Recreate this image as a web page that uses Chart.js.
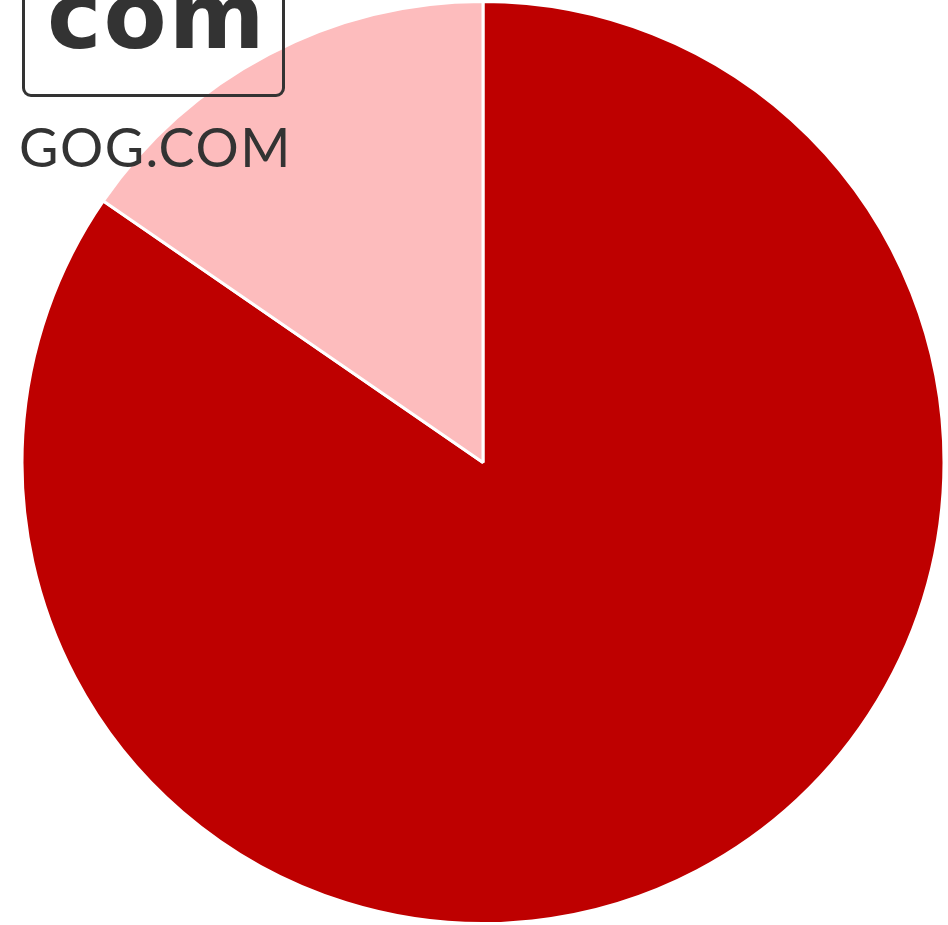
<!DOCTYPE html>
<html>
<head>
<meta charset="utf-8">
<script src="https://cdn.jsdelivr.net/npm/chart.js@4"></script>
<style>
  html, body { margin: 0; padding: 0; background: #fff; }
  #wrap { position: relative; width: 948px; height: 925px; }
  #logo { position: absolute; left: 0; top: 0; width: 300px; height: 180px; pointer-events: none; overflow: hidden; }
  #logo .box {
    position: absolute; left: 22px; top: -20px; width: 257px; height: 111px;
    border: 3px solid #333; border-radius: 9px; box-sizing: content-box;
  }
  #logo .com {
    position: absolute; left: 47px; top: -29px;
    font-family: "DejaVu Sans", sans-serif; font-weight: bold; font-size: 92px;
    color: #333; letter-spacing: 2px; line-height: 1;
  }
  #logo .name {
    position: absolute; left: 19px; top: 120px;
    font-family: Lato, sans-serif; font-weight: 400; font-size: 54px;
    color: #333; line-height: 1; letter-spacing: 1.5px;
  }
</style>
</head>
<body>
<div id="wrap">
  <canvas id="tarta" width="948" height="925"></canvas>
  <div id="logo">
    <div class="box"></div>
    <div class="com">com</div>
    <div class="name">GOG.COM</div>
  </div>
</div>
<script>
// Datos del gráfico
const etiquetas = ['Otros', 'GOG.COM'];
const valores = [84.6, 15.4];
const colores = ['#BE0000', '#FDBCBD'];

const ctx = document.getElementById('tarta').getContext('2d');

new Chart(ctx, {
    type: 'pie',
    data: {
        labels: etiquetas,
        datasets: [{
            data: valores,
            backgroundColor: colores,
            borderColor: '#ffffff',
            borderWidth: 3
        }]
    },
    options: {
        responsive: false,
        animation: false,
        layout: {
            padding: { left: 20, right: 2, top: 0, bottom: -1 }
        },
        plugins: {
            legend: { display: false },
            tooltip: { enabled: false }
        }
    }
});
</script>
</body>
</html>
